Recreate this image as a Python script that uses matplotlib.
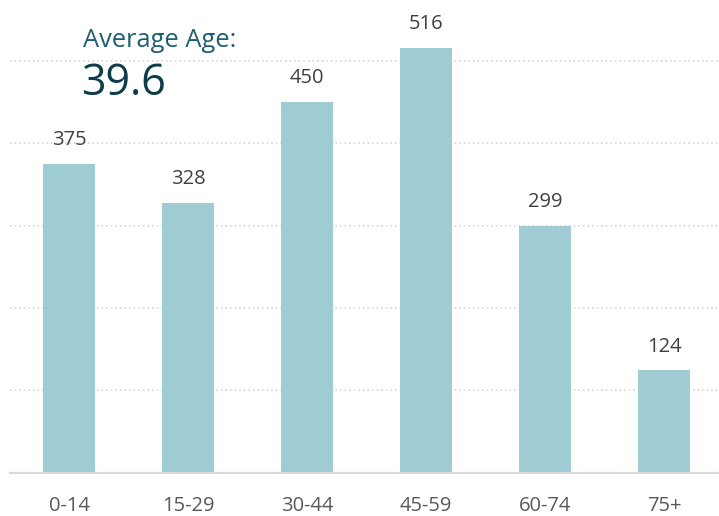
import matplotlib.pyplot as plt

plt.rcParams['font.family'] = ['Open Sans', 'DejaVu Sans']

age_groups = ['0-14', '15-29', '30-44', '45-59', '60-74', '75+']
counts = [375, 328, 450, 516, 299, 124]
average_age = '39.6'

bar_color = '#9FCBD3'
grid_color = '#D0D0D0'

fig = plt.figure(figsize=(7.19, 5.16), dpi=100)
# axes run from the left margin to the right edge, and up to the top edge
ax = fig.add_axes([9.5 / 719, 43.5 / 516, 1 - 9.5 / 719, 472.5 / 516])

x = range(len(age_groups))
bars = ax.bar(x, counts, width=0.437, color=bar_color, zorder=2)

ax.set_xlim(-0.5, 5.46)
ax.set_ylim(0, 574)
ax.set_yticks([100, 200, 300, 400, 500])
ax.yaxis.grid(True, linestyle=(0, (1, 2)), color=grid_color, linewidth=1.1, zorder=0)
ax.tick_params(axis='y', left=False, labelleft=False)
ax.set_xticks(list(x))
ax.set_xticklabels(age_groups, fontsize=14.5, color='#595959')
ax.tick_params(axis='x', length=0, pad=17)

for side in ['top', 'right', 'left']:
    ax.spines[side].set_visible(False)
ax.spines['bottom'].set_color('#D9D9D9')
ax.spines['bottom'].set_linewidth(1.6)

for rect, v in zip(bars, counts):
    ax.annotate(str(v), (rect.get_x() + rect.get_width() / 2, v),
                xytext=(0, 10), textcoords='offset points',
                ha='center', va='bottom', fontsize=14.5, color='#404040')

fig.text(83 / 719, 1 - 47 / 516, 'Average Age:', fontsize=18.4, color='#1D5E70',
         ha='left', va='baseline')
fig.text(81 / 719, 1 - 95 / 516, average_age, fontsize=31, color='#0E3C48',
         ha='left', va='baseline')

fig.savefig('out.png', dpi=100)
